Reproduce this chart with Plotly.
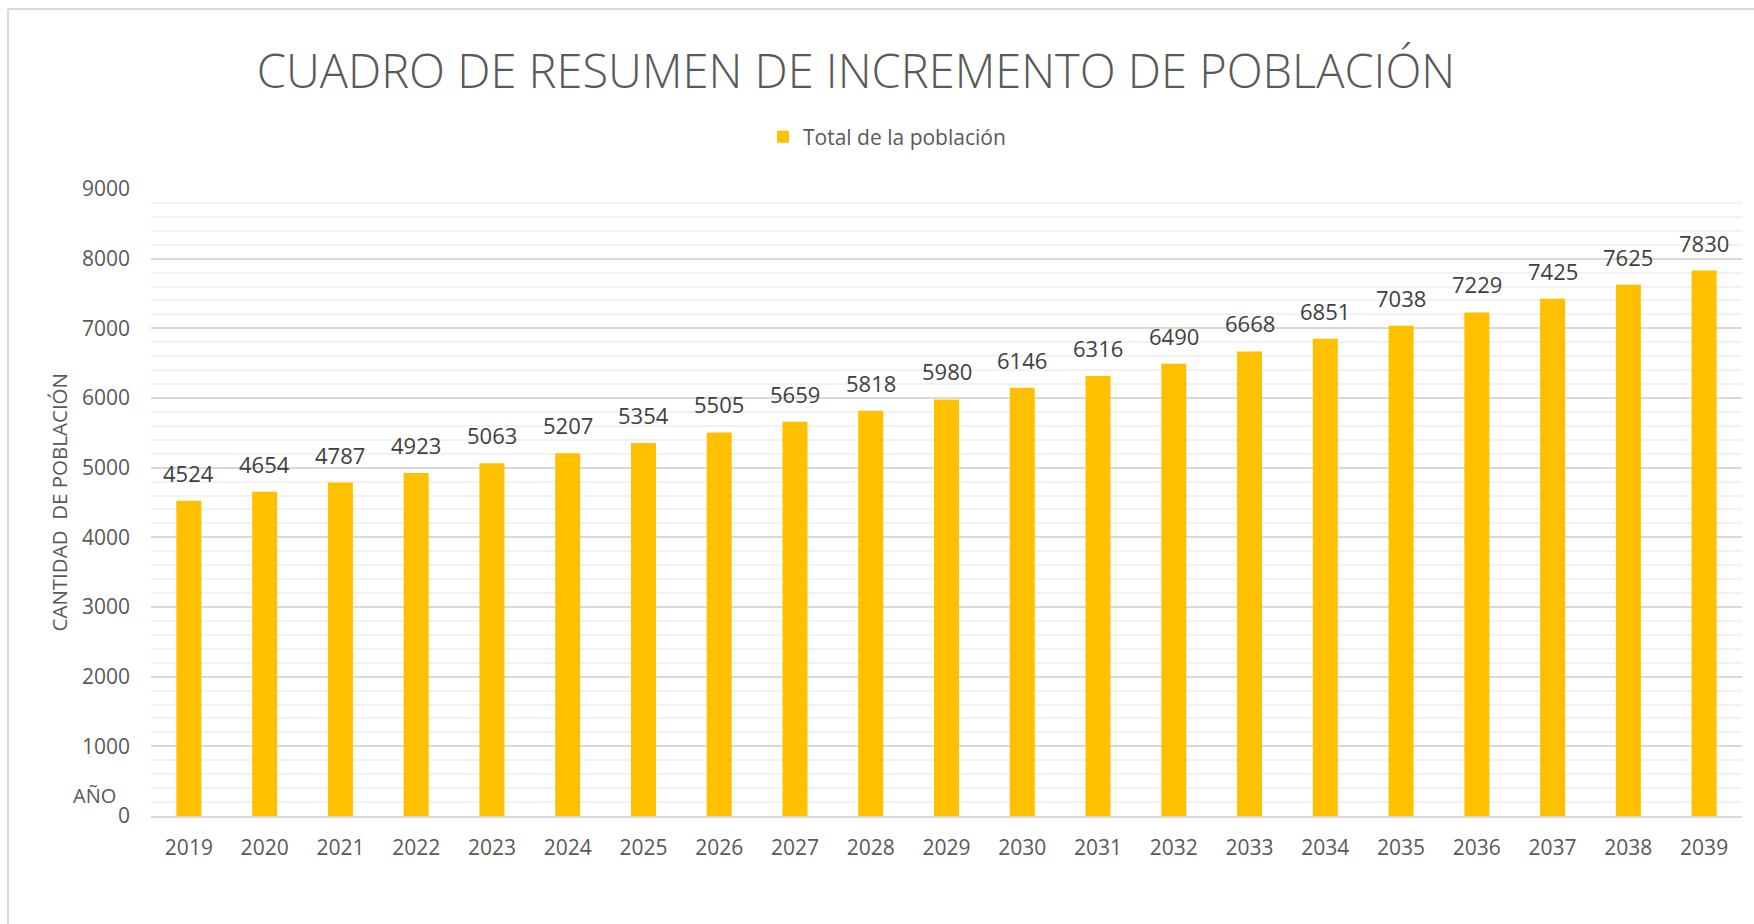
import plotly.graph_objects as go

years = [str(y) for y in range(2019, 2040)]
population = [4524, 4654, 4787, 4923, 5063, 5207, 5354, 5505, 5659, 5818, 5980,
              6146, 6316, 6490, 6668, 6851, 7038, 7229, 7425, 7625, 7830]
y_ticks = [0, 1000, 2000, 3000, 4000, 5000, 6000, 7000, 8000, 9000]

TXT = "#595959"
FONT = "Open Sans"
W, H = 1754, 924
L, R, T, B = 151, 12, 189, 108
pw, ph = W - L - R, H - T - B

def px_x(x):
    return (x - L) / pw

def px_y(y):
    return (H - B - y) / ph

fig = go.Figure()
fig.add_trace(go.Bar(
    x=years, y=population, name="Total de la población",
    marker=dict(color="#FFC000", line=dict(width=0)),
    showlegend=True,
))

for i, v in enumerate(population):
    fig.add_annotation(x=i, y=v, text=str(v), showarrow=False,
                       yanchor="bottom", yshift=11,
                       font=dict(family=FONT, size=22, color="#404040"))

fig.add_annotation(xref="paper", yref="paper", x=px_x(58), y=0.5,
                   text="CANTIDAD  DE POBLACIÓN", textangle=-90, showarrow=False,
                   xanchor="center", yanchor="middle",
                   font=dict(family=FONT, size=20.5, color=TXT))
fig.add_annotation(xref="paper", yref="paper", x=px_x(118), y=px_y(795),
                   text="AÑO", showarrow=False, xanchor="right", yanchor="middle",
                   font=dict(family=FONT, size=20, color=TXT))

# chart frame (left and top edges)
fig.add_shape(type="line", xref="paper", yref="paper", x0=px_x(8), x1=px_x(8),
              y0=px_y(9), y1=px_y(940), line=dict(color="#d9d9d9", width=2))
fig.add_shape(type="line", xref="paper", yref="paper", x0=px_x(8), x1=px_x(1770),
              y0=px_y(9), y1=px_y(9), line=dict(color="#d9d9d9", width=2))

fig.update_layout(
    width=W, height=H,
    margin=dict(l=L, r=R, t=T, b=B, autoexpand=False),
    paper_bgcolor="white", plot_bgcolor="white",
    bargap=0.67,
    title=dict(text="CUADRO DE RESUMEN DE INCREMENTO DE POBLACIÓN",
               x=856 / W, xanchor="center", y=1 - 72 / H, yanchor="middle",
               font=dict(family=FONT, size=47, color=TXT, weight=300)),
    legend=dict(orientation="h", x=px_x(763), y=px_y(137), xanchor="left",
                yanchor="middle", font=dict(family=FONT, size=21, color=TXT),
                bgcolor="rgba(0,0,0,0)"),
    xaxis=dict(type="category", showgrid=False, showline=True, linecolor="#d9d9d9",
               linewidth=2, ticks="", ticklabelstandoff=12,
               tickfont=dict(family=FONT, size=21, color=TXT)),
    yaxis=dict(range=[0, 9000], tickvals=y_ticks, showgrid=True, gridcolor="#d9d9d9",
               gridwidth=1.5, zeroline=False, showline=False, ticks="",
               ticklabelstandoff=20,
               tickfont=dict(family=FONT, size=21, color=TXT),
               minor=dict(dtick=200, tick0=0, showgrid=True, gridcolor="#f2f2f2",
                          gridwidth=1.5)),
)

fig.write_html("out.html")
